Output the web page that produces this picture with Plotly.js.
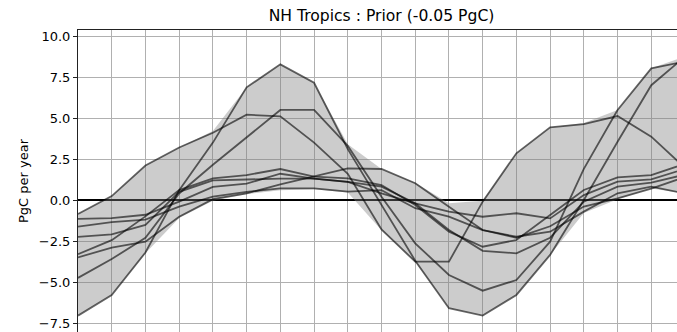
<!DOCTYPE html>
<html>
<head>
<meta charset="utf-8">
<script src="https://cdn.plot.ly/plotly-3.0.1.min.js"></script>
<style>
html,body{margin:0;padding:0;overflow:hidden;background:#fff;}
#chart{width:690px;height:340px;}
</style>
</head>
<body>
<div id="chart"></div>
<script>
// month index along the x axis
const months = [0,1,2,3,4,5,6,7,8,9,10,11,12,13,14,15,16,17,18];

// ensemble spread (grey band)
const bandHi = [-0.85, 0.24, 2.1, 3.2, 4.2, 6.87, 8.27, 7.15, 3.4, 1.89, 1.05, -0.2, -0.05, 2.85, 4.43, 4.7, 5.49, 8.03, 8.75];
const bandLo = [-7.05, -5.8, -3.25, -1.1, -0.05, 0.35, 0.6, 0.65, 0.45, -1.85, -3.76, -6.6, -7.05, -5.79, -3.35, -0.8, 0.05, 0.7, 0.4];

// individual model series (PgC per year)
const modelA = [-0.85, 0.24, 2.1, 3.2, 4.1, 5.2, 5.1, 3.5, 1.6, -1.8, -3.76, -3.76, -0.1, 2.85, 4.43, 4.63, 5.12, 3.86, 1.95];
const modelB = [-7.05, -5.8, -3.2, 0.6, 3.5, 6.87, 8.27, 7.15, 3.1, -0.3, -3.7, -6.6, -7.05, -5.79, -3.35, 0.0, 3.55, 7.0, 8.75];
const modelC = [-4.75, -3.6, -2.3, 0.4, 2.15, 3.82, 5.49, 5.49, 3.3, 0.2, -2.64, -4.57, -5.53, -4.88, -2.54, 1.9, 5.49, 8.03, 8.45];
const modelD = [-3.3, -2.45, -1.0, 0.6, 1.32, 1.52, 1.89, 1.42, 1.32, 0.91, -0.3, -1.93, -2.85, -2.44, -0.91, 0.61, 1.38, 1.52, 2.2];
const modelE = [-2.25, -2.1, -1.52, 0.5, 1.2, 1.25, 1.3, 1.3, 1.1, 0.81, -0.2, -1.83, -3.1, -3.25, -2.3, -0.1, 0.81, 1.06, 1.55];
const modelF = [-1.63, -1.35, -1.2, -0.41, 0.2, 0.5, 0.71, 0.71, 0.51, 0.6, -0.5, -1.02, -1.83, -2.24, -1.93, -0.71, 0.41, 0.81, 0.4];
const modelG = [-1.15, -1.1, -0.9, -0.1, 0.8, 1.0, 1.6, 1.3, 1.1, 0.4, -0.2, -0.71, -1.02, -0.81, -1.12, 0.3, 1.12, 1.26, 1.9];
const modelH = [-3.5, -2.9, -2.54, -1.02, 0.05, 0.4, 0.95, 1.45, 1.93, 1.89, 1.02, -0.41, -1.83, -2.3, -1.6, -0.4, 0.1, 0.7, 1.4];

const models = [modelA, modelB, modelC, modelD, modelE, modelF, modelG, modelH];

const traces = [
  {x: months, y: bandLo, mode: 'lines', line: {width: 0}, hoverinfo: 'skip', showlegend: false},
  {x: months, y: bandHi, mode: 'lines', line: {width: 0}, fill: 'tonexty',
   fillcolor: 'rgba(128,128,128,0.4)', hoverinfo: 'skip', showlegend: false}
];
models.forEach((m, i) => {
  traces.push({x: months, y: m, mode: 'lines', name: 'model ' + (i + 1),
    line: {color: 'rgba(0,0,0,0.6)', width: 1.8}, showlegend: false});
});

const layout = {
  width: 690, height: 340,
  margin: {l: 78, r: 5.4, t: 30, b: 8, pad: 0},
  paper_bgcolor: '#fff', plot_bgcolor: '#fff',
  font: {family: 'DejaVu Sans', size: 13, color: '#000'},
  title: {text: 'NH Tropics : Prior (-0.05 PgC)', x: 0.5, xref: 'paper',
          y: 1 - 16/340, yref: 'container', yanchor: 'middle',
          font: {family: 'DejaVu Sans', size: 15.6, color: '#000'}},
  showlegend: false,
  xaxis: {range: [0, 18], dtick: 1, tick0: 0, showticklabels: false, ticks: '',
          showgrid: true, gridcolor: '#b0b0b0', gridwidth: 1,
          showline: true, mirror: true, linecolor: '#222', linewidth: 1, zeroline: false},
  yaxis: {range: [-8.049, 10.366], dtick: 2.5, tick0: 0, tickformat: '.1f',
          ticks: 'outside', ticklen: 4, tickcolor: '#222', tickwidth: 1,
          showgrid: true, gridcolor: '#b0b0b0', gridwidth: 1,
          showline: true, mirror: true, linecolor: '#222', linewidth: 1,
          zeroline: true, zerolinecolor: '#000', zerolinewidth: 1.6,
          title: {text: 'PgC per year', standoff: 7, font: {family: 'DejaVu Sans', size: 13}},
          tickfont: {family: 'DejaVu Sans', size: 13}, automargin: false}
};

Plotly.newPlot('chart', traces, layout, {displayModeBar: false, staticPlot: true});
</script>
</body>
</html>
